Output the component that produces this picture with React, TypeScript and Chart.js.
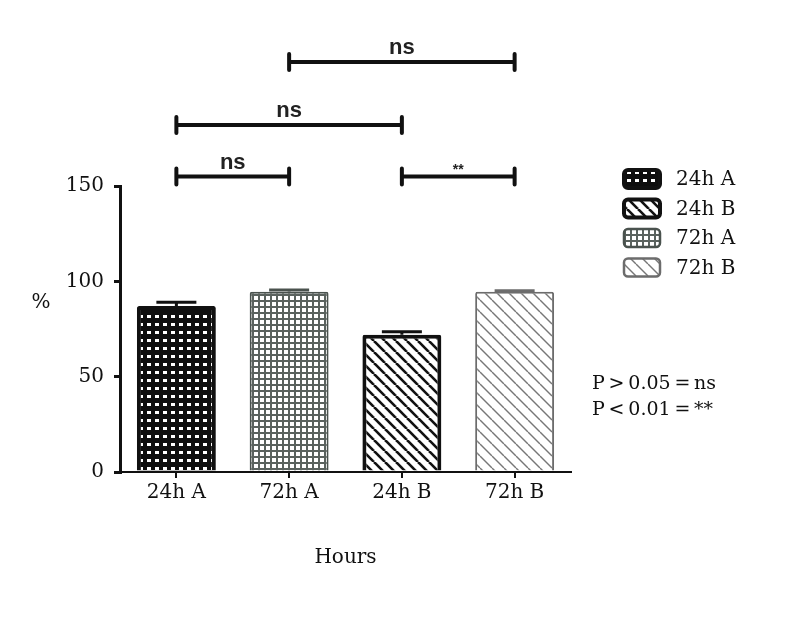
import React, { useEffect, useRef } from "react";
import { Chart, registerables } from "chart.js";

Chart.register(...registerables);

const categories = ["24h A", "72h A", "24h B", "72h B"];
const values = [87, 94.5, 72, 94.5];
const errors = [2, 1, 1.5, 0.5];
const yTicks = [0, 50, 100, 150];
const legendOrder = ["24h A", "24h B", "72h A", "72h B"];
const brackets = [
  { from: 1, to: 3, level: 215, label: "ns" },
  { from: 0, to: 2, level: 182, label: "ns" },
  { from: 0, to: 1, level: 155, label: "ns" },
  { from: 2, to: 3, level: 155, label: "**" },
];
const pNotes = ["P\u2009>\u20090.05\u2009=\u2009ns", "P\u2009<\u20090.01\u2009=\u2009**"];
const yTitle = "%";
const xTitle = "Hours";

const SERIF = "'DejaVu Serif', serif";
const INK = "#111111";
const borderColors = ["#111111", "#4a524e", "#111111", "#6c6c6c"];
const borderWidths = [4, 2, 4, 2];

function makePattern(kind: number): CanvasPattern | string {
  const c = document.createElement("canvas");
  const ctx = c.getContext("2d")!;
  if (kind === 0) {
    c.width = 8; c.height = 8;
    ctx.fillStyle = "#0e0e0e"; ctx.fillRect(0, 0, 8, 8);
    ctx.fillStyle = "#ffffff"; ctx.fillRect(3, 3, 4, 3);
  } else if (kind === 1) {
    c.width = 6; c.height = 6;
    ctx.fillStyle = "#ffffff"; ctx.fillRect(0, 0, 6, 6);
    ctx.fillStyle = "#5a625e"; ctx.fillRect(0, 0, 6, 2); ctx.fillRect(0, 0, 2, 6);
  } else {
    const s = kind === 2 ? 11 : 12;
    c.width = s; c.height = s;
    ctx.fillStyle = "#ffffff"; ctx.fillRect(0, 0, s, s);
    ctx.strokeStyle = kind === 2 ? "#111111" : "#777777";
    ctx.lineWidth = kind === 2 ? 2.6 : 1.4;
    for (const o of [-s, 0, s]) {
      ctx.beginPath(); ctx.moveTo(o, 0); ctx.lineTo(o + s, s); ctx.stroke();
    }
  }
  return ctx.createPattern(c, "repeat") || "#888";
}

export default function App() {
  const ref = useRef<HTMLCanvasElement>(null);
  useEffect(() => {
    if (!ref.current) return;
    const fills = [makePattern(0), makePattern(1), makePattern(2), makePattern(3)];

    const extras = {
      id: "extras",
      afterDatasetsDraw(chart: any) {
        const ctx = chart.ctx;
        const meta = chart.getDatasetMeta(0);
        const ys = chart.scales.y;
        ctx.save();
        meta.data.forEach((bar: any, i: number) => {
          const yTop = ys.getPixelForValue(values[i] + errors[i]);
          ctx.strokeStyle = borderColors[i];
          ctx.lineWidth = 3;
          ctx.beginPath();
          ctx.moveTo(bar.x, bar.y);
          ctx.lineTo(bar.x, yTop);
          ctx.moveTo(bar.x - 20, yTop);
          ctx.lineTo(bar.x + 20, yTop);
          ctx.stroke();
        });
        ctx.restore();
      },
      afterDraw(chart: any) {
        const ctx = chart.ctx;
        const xs = chart.scales.x;
        const ys = chart.scales.y;
        ctx.save();
        brackets.forEach((b) => {
          const x1 = xs.getPixelForValue(b.from);
          const x2 = xs.getPixelForValue(b.to);
          const y = ys.getPixelForValue(b.level);
          ctx.strokeStyle = INK;
          ctx.lineWidth = 4;
          ctx.lineCap = "round";
          ctx.beginPath();
          ctx.moveTo(x1, y); ctx.lineTo(x2, y);
          ctx.moveTo(x1, y - 8); ctx.lineTo(x1, y + 8);
          ctx.moveTo(x2, y - 8); ctx.lineTo(x2, y + 8);
          ctx.stroke();
          ctx.fillStyle = "#222";
          ctx.textAlign = "center";
          ctx.textBaseline = "middle";
          if (b.label === "**") {
            ctx.font = "bold 14px 'Liberation Sans', sans-serif";
            ctx.fillText(b.label, (x1 + x2) / 2, y - 6);
          } else {
            ctx.font = "bold 22px 'Liberation Sans', sans-serif";
            ctx.fillText(b.label, (x1 + x2) / 2, y - 14);
          }
        });
        const styleIdx = legendOrder.map((l) => categories.indexOf(l));
        legendOrder.forEach((lab, k) => {
          const i = styleIdx[k];
          const cy = 179 + k * 29.5;
          const bx = 624, bw = 36, bh = 18;
          ctx.beginPath();
          (ctx as any).roundRect(bx, cy - bh / 2, bw, bh, 4);
          ctx.fillStyle = fills[i] as any;
          ctx.fill();
          ctx.lineWidth = borderWidths[i] === 4 ? 4 : 2.5;
          ctx.strokeStyle = borderColors[i];
          ctx.stroke();
          ctx.fillStyle = INK;
          ctx.font = `20px ${SERIF}`;
          ctx.textAlign = "left";
          ctx.textBaseline = "middle";
          ctx.fillText(lab, 676, cy + 1);
        });
        ctx.font = `19px ${SERIF}`;
        pNotes.forEach((t, k) => ctx.fillText(t, 592, 384 + k * 26));
        ctx.font = `20px ${SERIF}`;
        ctx.textAlign = "center";
        ctx.fillText(yTitle, 41, 303);
        ctx.fillText(xTitle, (xs.left + xs.right) / 2, 558);
        ctx.restore();
      },
    };

    const chart = new Chart(ref.current, {
      type: "bar",
      data: {
        labels: categories,
        datasets: [
          {
            data: values,
            backgroundColor: fills as any,
            borderColor: borderColors,
            borderWidth: borderWidths,
            borderRadius: 2,
            barPercentage: 0.7,
            categoryPercentage: 1,
          },
        ],
      },
      options: {
        responsive: false,
        animation: false,
        layout: { padding: { left: 0, top: 186, right: 223, bottom: 0 } },
        plugins: { legend: { display: false }, tooltip: { enabled: false } },
        scales: {
          x: {
            afterFit: (s: any) => { s.height = 150; },
            grid: { offset: false, drawOnChartArea: false, drawTicks: true, tickLength: 6, color: INK, lineWidth: 2 },
            border: { display: true, color: INK, width: 2 },
            ticks: { color: INK, font: { family: SERIF, size: 20 }, padding: 3 },
          },
          y: {
            min: 0,
            max: 150,
            afterFit: (s: any) => { s.width = 120; },
            afterBuildTicks: (s: any) => { s.ticks = yTicks.map((v) => ({ value: v })); },
            grid: { drawOnChartArea: false, drawTicks: true, tickLength: 6, color: INK, lineWidth: 3 },
            border: { display: true, color: INK, width: 3 },
            ticks: { color: INK, font: { family: SERIF, size: 20 }, padding: 10 },
          },
        },
      },
      plugins: [extras],
    });
    return () => chart.destroy();
  }, []);

  return (
    <div style={{ position: "absolute", left: 0, top: 0, width: 794, height: 622, background: "#fff" }}>
      <canvas ref={ref} width={794} height={622} />
    </div>
  );
}
